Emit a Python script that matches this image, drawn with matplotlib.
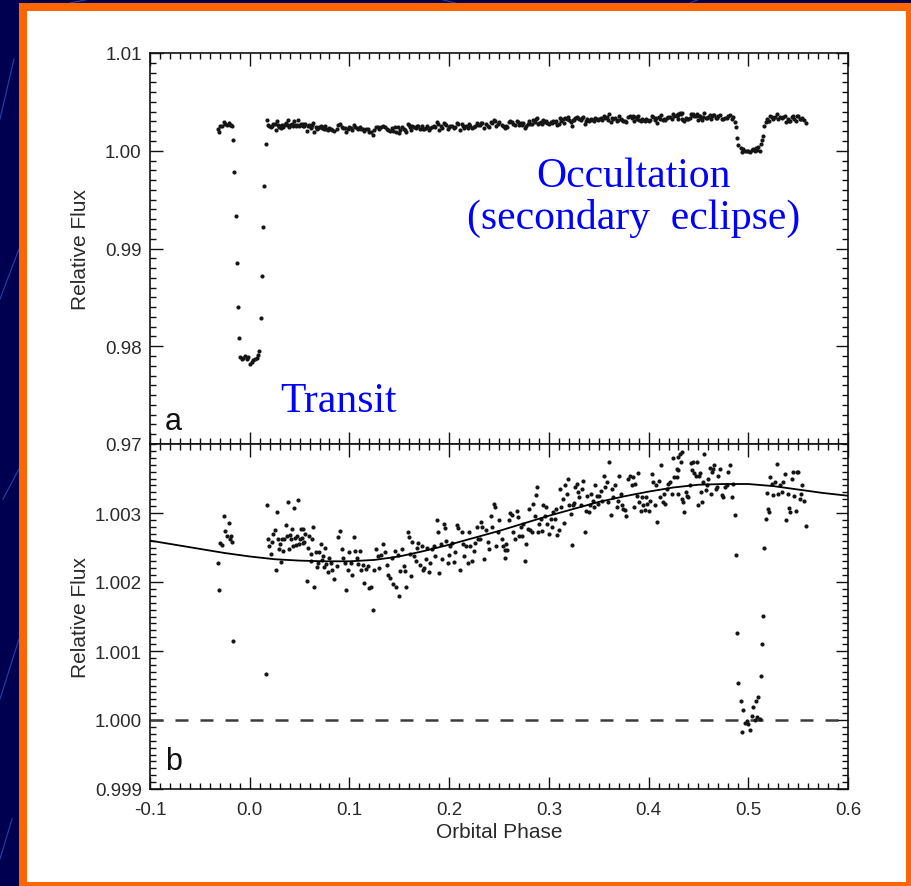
import matplotlib
matplotlib.use('Agg')
import matplotlib.pyplot as plt
from matplotlib import patches, lines
from matplotlib.ticker import MultipleLocator, FormatStrFormatter

# light curve as (orbital phase, relative flux)
pre_transit = [
    (-0.0321, 1.00227), (-0.0311, 1.00189), (-0.0298, 1.00257), (-0.0281, 1.00253),
    (-0.0258, 1.00295), (-0.0244, 1.00274), (-0.0228, 1.00266), (-0.0211, 1.00285),
    (-0.0198, 1.00262), (-0.0188, 1.00267), (-0.0181, 1.00258),
]

transit = [
    (-0.0167, 1.00114), (-0.0154, 0.99786), (-0.0140, 0.99333), (-0.0130, 0.98849),
    (-0.0117, 0.98405), (-0.0103, 0.98081), (-0.0097, 0.97890), (-0.0080, 0.97873),
    (-0.0063, 0.97880), (-0.0047, 0.97900), (-0.0030, 0.97866), (-0.0013, 0.97890),
    (0.0003, 0.97822), (0.0020, 0.97839), (0.0037, 0.97856), (0.0054, 0.97873),
    (0.0070, 0.97880), (0.0087, 0.97907), (0.0097, 0.97955), (0.0110, 0.98292),
    (0.0124, 0.98722), (0.0137, 0.99223), (0.0147, 0.99636), (0.0159, 1.00067),
]

orbit_1 = [
    (0.0170, 1.00311), (0.0180, 1.00263), (0.0197, 1.00252), (0.0217, 1.00240),
    (0.0227, 1.00258), (0.0237, 1.00269), (0.0254, 1.00275), (0.0264, 1.00217),
    (0.0277, 1.00302), (0.0286, 1.00262), (0.0291, 1.00248), (0.0304, 1.00255),
    (0.0314, 1.00229), (0.0327, 1.00262), (0.0337, 1.00245), (0.0347, 1.00263),
    (0.0361, 1.00283), (0.0371, 1.00267), (0.0384, 1.00316), (0.0398, 1.00248),
    (0.0404, 1.00268), (0.0411, 1.00262), (0.0421, 1.00277), (0.0438, 1.00252),
    (0.0444, 1.00307), (0.0451, 1.00264), (0.0464, 1.00253), (0.0471, 1.00267),
    (0.0481, 1.00319), (0.0494, 1.00255), (0.0501, 1.00262), (0.0511, 1.00277),
    (0.0521, 1.00264), (0.0531, 1.00256), (0.0538, 1.00277), (0.0548, 1.00258),
    (0.0558, 1.00269), (0.0571, 1.00202), (0.0588, 1.00250), (0.0598, 1.00266),
    (0.0611, 1.00231), (0.0618, 1.00240), (0.0625, 1.00263), (0.0638, 1.00279),
    (0.0648, 1.00193), (0.0662, 1.00243), (0.0678, 1.00222), (0.0688, 1.00228),
    (0.0698, 1.00244), (0.0712, 1.00255), (0.0722, 1.00232), (0.0732, 1.00238),
    (0.0742, 1.00222), (0.0752, 1.00249), (0.0765, 1.00226), (0.0782, 1.00214),
    (0.0792, 1.00235),
]

orbit_2 = [
    (0.0815, 1.00227), (0.0829, 1.00217), (0.0849, 1.00204), (0.0872, 1.00223),
    (0.0889, 1.00265), (0.0905, 1.00274), (0.0922, 1.00248), (0.0939, 1.00235),
    (0.0956, 1.00228), (0.0969, 1.00189), (0.0982, 1.00218), (0.0996, 1.00243),
    (0.1016, 1.00228), (0.1029, 1.00210), (0.1043, 1.00265), (0.1056, 1.00245),
    (0.1076, 1.00235), (0.1089, 1.00226), (0.1103, 1.00245), (0.1116, 1.00218),
    (0.1133, 1.00224), (0.1150, 1.00198), (0.1166, 1.00219), (0.1183, 1.00223),
    (0.1200, 1.00192), (0.1217, 1.00193), (0.1236, 1.00159), (0.1250, 1.00217),
    (0.1267, 1.00248), (0.1283, 1.00238), (0.1300, 1.00221), (0.1317, 1.00239),
    (0.1340, 1.00255), (0.1357, 1.00243), (0.1377, 1.00224), (0.1390, 1.00210),
    (0.1410, 1.00206), (0.1424, 1.00235), (0.1440, 1.00197), (0.1457, 1.00245),
    (0.1467, 1.00193), (0.1484, 1.00239), (0.1497, 1.00180), (0.1511, 1.00216),
    (0.1524, 1.00248), (0.1544, 1.00223), (0.1557, 1.00216), (0.1571, 1.00193),
    (0.1584, 1.00272), (0.1598, 1.00265), (0.1611, 1.00240), (0.1618, 1.00209),
    (0.1631, 1.00258), (0.1651, 1.00238), (0.1664, 1.00231), (0.1678, 1.00249),
    (0.1691, 1.00257), (0.1708, 1.00224), (0.1725, 1.00252), (0.1738, 1.00218),
    (0.1751, 1.00221), (0.1765, 1.00233), (0.1778, 1.00250), (0.1798, 1.00215),
    (0.1812, 1.00228), (0.1825, 1.00248), (0.1845, 1.00252), (0.1858, 1.00238),
    (0.1878, 1.00290), (0.1885, 1.00273), (0.1902, 1.00213), (0.1918, 1.00255),
    (0.1932, 1.00233), (0.1945, 1.00284), (0.1959, 1.00278), (0.1972, 1.00260),
    (0.1985, 1.00227), (0.1999, 1.00239), (0.2012, 1.00252), (0.2026, 1.00256),
    (0.2046, 1.00229), (0.2059, 1.00244), (0.2079, 1.00282), (0.2093, 1.00278),
    (0.2112, 1.00217), (0.2126, 1.00272), (0.2139, 1.00255), (0.2153, 1.00237),
    (0.2173, 1.00252), (0.2186, 1.00228), (0.2199, 1.00272), (0.2213, 1.00252),
    (0.2233, 1.00231), (0.2246, 1.00245), (0.2260, 1.00256), (0.2280, 1.00279),
    (0.2293, 1.00262), (0.2306, 1.00262), (0.2320, 1.00287), (0.2333, 1.00279),
    (0.2353, 1.00234), (0.2366, 1.00276), (0.2387, 1.00258), (0.2400, 1.00248),
    (0.2420, 1.00296), (0.2433, 1.00279), (0.2447, 1.00313), (0.2460, 1.00308),
    (0.2467, 1.00252), (0.2487, 1.00273), (0.2500, 1.00290),
]

orbit_3 = [
    (0.2528, 1.00262), (0.2544, 1.00252), (0.2558, 1.00247), (0.2561, 1.00235),
    (0.2571, 1.00255), (0.2585, 1.00247), (0.2598, 1.00290), (0.2611, 1.00300),
    (0.2628, 1.00297), (0.2645, 1.00273), (0.2661, 1.00263), (0.2678, 1.00303),
    (0.2692, 1.00294), (0.2705, 1.00267), (0.2718, 1.00279), (0.2732, 1.00267),
    (0.2745, 1.00284), (0.2762, 1.00231), (0.2772, 1.00255), (0.2789, 1.00277),
    (0.2799, 1.00306), (0.2812, 1.00276), (0.2829, 1.00272), (0.2839, 1.00313),
    (0.2859, 1.00296), (0.2872, 1.00326), (0.2885, 1.00337), (0.2895, 1.00272),
    (0.2905, 1.00284), (0.2919, 1.00291), (0.2932, 1.00274), (0.2946, 1.00311),
    (0.2959, 1.00295), (0.2972, 1.00308), (0.2986, 1.00284), (0.3006, 1.00269),
    (0.3019, 1.00292), (0.3033, 1.00279), (0.3046, 1.00301), (0.3059, 1.00292),
    (0.3073, 1.00306), (0.3086, 1.00268), (0.3100, 1.00276), (0.3113, 1.00335),
    (0.3126, 1.00308), (0.3140, 1.00320), (0.3153, 1.00285), (0.3166, 1.00340),
    (0.3180, 1.00328), (0.3193, 1.00350), (0.3206, 1.00312), (0.3220, 1.00299),
    (0.3230, 1.00253), (0.3240, 1.00311), (0.3253, 1.00315), (0.3267, 1.00337),
    (0.3280, 1.00342), (0.3293, 1.00330), (0.3307, 1.00323), (0.3320, 1.00311),
    (0.3333, 1.00335), (0.3347, 1.00346), (0.3360, 1.00273), (0.3373, 1.00303),
    (0.3387, 1.00325), (0.3400, 1.00301), (0.3414, 1.00312), (0.3427, 1.00328),
    (0.3440, 1.00317), (0.3454, 1.00308), (0.3467, 1.00340), (0.3481, 1.00325),
    (0.3494, 1.00313), (0.3507, 1.00325), (0.3521, 1.00332), (0.3534, 1.00318),
    (0.3554, 1.00353), (0.3567, 1.00337), (0.3581, 1.00345), (0.3594, 1.00316),
    (0.3608, 1.00374), (0.3621, 1.00297), (0.3634, 1.00335), (0.3648, 1.00323),
    (0.3664, 1.00340), (0.3681, 1.00308), (0.3698, 1.00318), (0.3708, 1.00354),
    (0.3721, 1.00328), (0.3735, 1.00312), (0.3748, 1.00306), (0.3765, 1.00304),
    (0.3775, 1.00296), (0.3798, 1.00349), (0.3815, 1.00354), (0.3832, 1.00340),
    (0.3842, 1.00352), (0.3855, 1.00308), (0.3868, 1.00342), (0.3882, 1.00325),
    (0.3895, 1.00358), (0.3909, 1.00316), (0.3922, 1.00303), (0.3935, 1.00323),
    (0.3949, 1.00311), (0.3962, 1.00305), (0.3975, 1.00323), (0.3989, 1.00313),
    (0.4002, 1.00303), (0.4015, 1.00318), (0.4032, 1.00357), (0.4049, 1.00345),
    (0.4062, 1.00311), (0.4076, 1.00340), (0.4089, 1.00287), (0.4102, 1.00347),
    (0.4116, 1.00323), (0.4129, 1.00370), (0.4143, 1.00316), (0.4156, 1.00328),
    (0.4169, 1.00313), (0.4183, 1.00335), (0.4196, 1.00342), (0.4216, 1.00345),
    (0.4233, 1.00328), (0.4243, 1.00380), (0.4256, 1.00352),
]

orbit_4 = [
    (0.4283, 1.00364), (0.4283, 1.00352), (0.4293, 1.00328), (0.4299, 1.00381),
    (0.4299, 1.00362), (0.4316, 1.00386), (0.4326, 1.00374), (0.4333, 1.00388),
    (0.4340, 1.00320), (0.4350, 1.00316), (0.4360, 1.00301), (0.4373, 1.00330),
    (0.4383, 1.00324), (0.4400, 1.00323), (0.4417, 1.00340), (0.4426, 1.00373),
    (0.4433, 1.00362), (0.4450, 1.00374), (0.4460, 1.00358), (0.4473, 1.00354),
    (0.4483, 1.00374), (0.4493, 1.00311), (0.4507, 1.00354), (0.4517, 1.00358),
    (0.4527, 1.00330), (0.4540, 1.00316), (0.4550, 1.00345), (0.4560, 1.00386),
    (0.4573, 1.00334), (0.4583, 1.00340), (0.4600, 1.00349), (0.4617, 1.00365),
    (0.4627, 1.00328), (0.4640, 1.00359), (0.4650, 1.00364), (0.4660, 1.00370),
    (0.4674, 1.00335), (0.4684, 1.00338), (0.4700, 1.00354), (0.4717, 1.00364),
    (0.4734, 1.00326), (0.4751, 1.00323), (0.4767, 1.00337), (0.4784, 1.00340),
    (0.4801, 1.00359), (0.4818, 1.00370), (0.4834, 1.00323), (0.4851, 1.00342),
    (0.4868, 1.00297),
]

eclipse = [
    (0.4874, 1.00239), (0.4888, 1.00126), (0.4901, 1.00054), (0.4925, 1.00027),
    (0.4935, 0.99983), (0.4951, 1.00015), (0.4968, 0.99995), (0.4985, 0.99998),
    (0.5002, 0.99994), (0.5018, 0.99986), (0.5035, 1.00006), (0.5052, 1.00019),
    (0.5068, 1.00000), (0.5075, 1.00027), (0.5085, 1.00004), (0.5102, 1.00034),
    (0.5119, 1.00002), (0.5129, 1.00064), (0.5142, 1.00110), (0.5152, 1.00151),
    (0.5162, 1.00249),
]

post_eclipse = [
    (0.5175, 1.00292), (0.5186, 1.00329), (0.5195, 1.00306), (0.5209, 1.00301),
    (0.5222, 1.00352), (0.5236, 1.00342), (0.5252, 1.00326), (0.5269, 1.00345),
    (0.5286, 1.00371), (0.5303, 1.00328), (0.5319, 1.00341), (0.5336, 1.00330),
    (0.5353, 1.00345), (0.5369, 1.00357), (0.5379, 1.00290), (0.5396, 1.00328),
    (0.5410, 1.00307), (0.5423, 1.00301), (0.5436, 1.00350), (0.5453, 1.00360),
    (0.5463, 1.00324), (0.5476, 1.00303), (0.5490, 1.00360), (0.5503, 1.00360),
    (0.5516, 1.00320), (0.5530, 1.00328), (0.5543, 1.00340), (0.5557, 1.00317),
    (0.5577, 1.00281),
]

# phase-curve model drawn in panel b
model_phase = [-0.100, -0.075, -0.050, -0.025, 0.000, 0.025, 0.050, 0.075, 0.100,
               0.125, 0.150, 0.175, 0.200, 0.225, 0.250, 0.275, 0.300, 0.325,
               0.350, 0.375, 0.400, 0.425, 0.450, 0.475, 0.500, 0.525, 0.550,
               0.575, 0.600]
model_flux = [1.00260, 1.00254, 1.00248, 1.00242, 1.00237, 1.00233, 1.00231, 1.00230,
              1.00230, 1.00232, 1.00237, 1.00245, 1.00254, 1.00264, 1.00274, 1.00285,
              1.00296, 1.00306, 1.00316, 1.00324, 1.00331, 1.00337, 1.00341, 1.00342,
              1.00342, 1.00339, 1.00334, 1.00329, 1.00325]

x_ticks = [-0.1, 0.0, 0.1, 0.2, 0.3, 0.4, 0.5, 0.6]
a_ticks = [0.97, 0.98, 0.99, 1.00, 1.01]
b_ticks = [0.999, 1.000, 1.001, 1.002, 1.003]

points = pre_transit + transit + orbit_1 + orbit_2 + orbit_3 + orbit_4 + eclipse + post_eclipse
phase = [p for p, f in points]
flux = [f for p, f in points]

W, H = 912, 887
fig = plt.figure(figsize=(W / 100, H / 100), dpi=100)
fig.patch.set_facecolor('#000050')

# slide frame: thin blue streaks on navy, orange border, white panel (behind the axes)
for (x0, y0, x1, y1) in [(0, 120, 14, 60), (0, 300, 19, 250), (3, 500, 19, 470),
                         (0, 700, 19, 640), (0, 860, 12, 820), (90, 0, 70, 4),
                         (440, 0, 455, 4), (700, 0, 690, 4)]:
    fig.add_artist(lines.Line2D([x0 / W, x1 / W], [1 - y0 / H, 1 - y1 / H],
                                color='#2d55b8', lw=0.8, alpha=0.8, zorder=-3))
fig.add_artist(patches.Rectangle((19 / W, 0), (W - 19) / W, (H - 4) / H,
                                 facecolor='#ff6600', edgecolor='none', zorder=-2))
fig.add_artist(patches.Rectangle((27 / W, 4 / H), 879 / W, 871 / H,
                                 facecolor='white', edgecolor='none', zorder=-1))

left, width = 150 / W, 698 / W
ax_a = fig.add_axes([left, 1 - 445 / H, width, 391 / H])
ax_b = fig.add_axes([left, 1 - 790 / H, width, 345 / H])

tick_font = {'family': 'Liberation Sans', 'size': 13.5, 'color': '#2a2a2a'}

for ax in (ax_a, ax_b):
    ax.plot(phase, flux, 'o', ms=3.0, mew=0, color='#151515', zorder=3)
    ax.set_xlim(-0.1, 0.6)
    ax.xaxis.set_major_locator(MultipleLocator(0.1))
    ax.xaxis.set_minor_locator(MultipleLocator(0.01))
    ax.tick_params(which='both', direction='in', top=True, right=True, width=1.0,
                   colors='#111111', labelcolor='#2a2a2a')
    ax.tick_params(which='major', length=9)
    ax.tick_params(which='minor', length=4.5)
    ax.tick_params(axis='y', pad=6)
    ax.tick_params(axis='x', pad=9)
    for s in ax.spines.values():
        s.set_linewidth(1.2)
        s.set_color('#111111')
    ax.set_ylabel('Relative Flux', fontdict={'family': 'Liberation Sans', 'size': 15,
                                             'color': '#2a2a2a'})
    ax.yaxis.set_label_coords(-0.086, 0.5)

# panel a
ax_a.set_ylim(0.97, 1.01)
ax_a.set_yticks(a_ticks)
ax_a.yaxis.set_minor_locator(MultipleLocator(0.001))
ax_a.yaxis.set_major_formatter(FormatStrFormatter('%.2f'))
ax_a.tick_params(labelbottom=False)
ax_a.text(0.021, 0.038, 'a', transform=ax_a.transAxes, family='Liberation Sans',
          size=22, color='#111111', va='baseline')
ax_a.text(0.186, 0.084, 'Transit', transform=ax_a.transAxes, family='Liberation Serif',
          size=30, color='#0000ff', va='baseline')
ax_a.text(0.6934, 0.660, 'Occultation', transform=ax_a.transAxes,
          family='Liberation Serif', size=30, color='#0000ff', ha='center', va='baseline')
ax_a.text(0.6934, 0.552, '(secondary  eclipse)', transform=ax_a.transAxes,
          family='Liberation Serif', size=30, color='#0000ff', ha='center', va='baseline')

# panel b
ax_b.set_ylim(0.999, 1.004)
ax_b.set_yticks(b_ticks)
ax_b.yaxis.set_minor_locator(MultipleLocator(0.0001))
ax_b.yaxis.set_major_formatter(FormatStrFormatter('%.3f'))
ax_b.set_xticks(x_ticks)
ax_b.xaxis.set_major_formatter(FormatStrFormatter('%.1f'))
ax_b.plot(model_phase, model_flux, '-', color='black', lw=1.3, zorder=4)
ax_b.axhline(1.0, color='#3c3c3c', lw=1.8, dashes=(5.2, 4.8), zorder=2)
ax_b.text(0.021, 0.058, 'b', transform=ax_b.transAxes, family='Liberation Sans',
          size=22, color='#111111', va='baseline')
ax_b.set_xlabel('Orbital Phase', fontdict={'family': 'Liberation Sans', 'size': 15,
                                           'color': '#2a2a2a'})
ax_b.xaxis.set_label_coords(0.5, -0.095)
ax_b.xaxis.label.set_va('top')

for ax in (ax_a, ax_b):
    for lbl in ax.get_xticklabels() + ax.get_yticklabels():
        lbl.set_fontfamily(tick_font['family'])
        lbl.set_fontsize(tick_font['size'])

fig.savefig('out.png', dpi=100, facecolor=fig.get_facecolor())
